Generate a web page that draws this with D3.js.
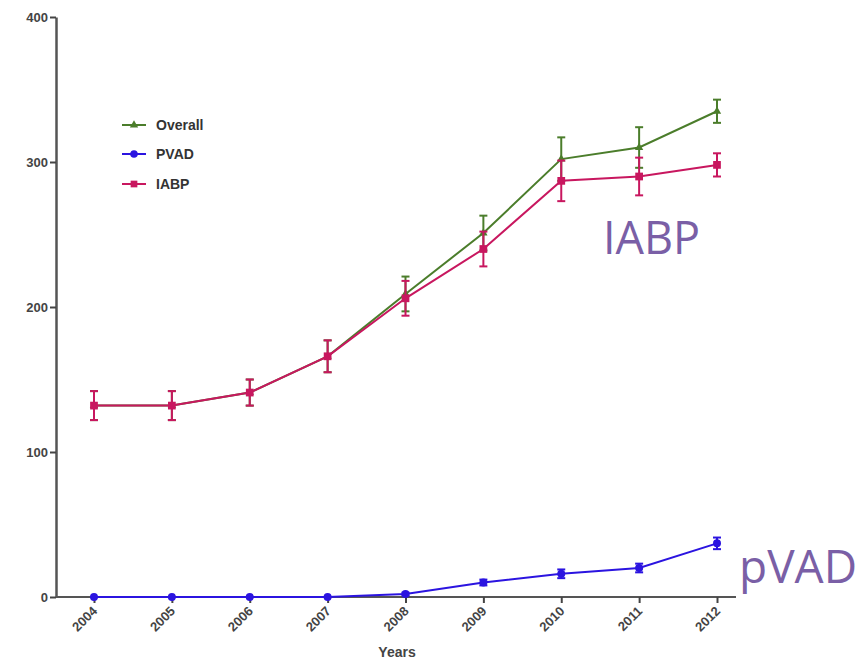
<!DOCTYPE html>
<html>
<head>
<meta charset="utf-8">
<script src="https://cdn.jsdelivr.net/npm/d3@7"></script>
<style>
body { margin: 0; background: #fff; }
svg { font-family: "Liberation Sans", Arial, sans-serif; }
.tick text { font-weight: bold; fill: #444; }
</style>
</head>
<body>
<script>
// Data
var years = [2004, 2005, 2006, 2007, 2008, 2009, 2010, 2011, 2012];
var overall = [132, 132, 141, 166, 209, 251, 302, 310, 335];
var overallErr = [10, 10, 9, 11, 12, 12, 15, 14, 8];
var pvad = [0, 0, 0, 0, 2, 10, 16, 20, 37];
var pvadErr = [0, 0, 0, 0, 1, 2, 3, 3, 4];
var iabp = [132, 132, 141, 166, 206, 240, 287, 290, 298];
var iabpErr = [10, 10, 9, 11, 12, 12, 14, 13, 8];
var yTicks = [0, 100, 200, 300, 400];

var width = 859, height = 660;
var svg = d3.select('body').append('svg')
	.attr('width', width)
	.attr('height', height);

// scales
var x = d3.scalePoint()
	.domain(years)
	.range([94, 717]);
var y = d3.scaleLinear()
	.domain([0, 400])
	.range([597, 17]);

// axes
var xAxis = svg.append('g')
	.attr('transform', 'translate(0,597)');
xAxis.append('line') // axis line runs past last year
	.attr('x1', 56).attr('x2', 736)
	.attr('y1', 0).attr('y2', 0)
	.attr('stroke', '#555').attr('stroke-width', 2);
xAxis.call(d3.axisBottom(x).tickSize(6).tickSizeOuter(0))
xAxis.select('.domain').remove();
xAxis.selectAll('.tick line').attr('stroke', '#444').attr('stroke-width', 2);
xAxis.selectAll('.tick text')
	.style('font-size', '13px')
	.attr('text-anchor', 'end')
	.attr('y', 0)
	.attr('dx', '-8px')
	.attr('dy', '13px')
	.attr('transform', 'rotate(-45)');

var yAxis = svg.append('g')
	.attr('transform', 'translate(56,0)')
	.call(d3.axisLeft(y).tickValues(yTicks).tickSize(6).tickSizeOuter(0));
yAxis.select('.domain').attr('stroke', '#555').attr('stroke-width', 2.5);
yAxis.selectAll('.tick line').attr('stroke', '#444').attr('stroke-width', 2);
yAxis.selectAll('.tick text').style('font-size', '13px').attr('x', -8);

svg.append('text')
	.attr('x', 397).attr('y', 657)
	.attr('text-anchor', 'middle')
	.style('font-size', '14px').style('font-weight', 'bold').attr('fill', '#444')
	.text('Years');

// series, drawn bottom to top
var series = [
	{name: 'Overall', vals: overall, err: overallErr, color: '#4b7d2b', shape: d3.symbolTriangle, size: 30},
	{name: 'IABP', vals: iabp, err: iabpErr, color: '#c8175f', shape: d3.symbolSquare, size: 60},
	{name: 'PVAD', vals: pvad, err: pvadErr, color: '#2b14e0', shape: d3.symbolCircle, size: 50}
];

var line = d3.line()
	.x(function (d) { return x(d.year); })
	.y(function (d) { return y(d.v); });

series.forEach(function (s) {
	var pts = years.map(function (yr, i) { return {year: yr, v: s.vals[i], e: s.err[i]}; });
	var g = svg.append('g');
	g.append('path')
		.datum(pts)
		.attr('d', line)
		.attr('fill', 'none')
		.attr('stroke', s.color)
		.attr('stroke-width', 2);
	// error bars
	var eb = g.selectAll('.eb').data(pts.filter(function (d) { return d.e > 0; }))
		.enter().append('g');
	eb.append('line')
		.attr('x1', function (d) { return x(d.year); })
		.attr('x2', function (d) { return x(d.year); })
		.attr('y1', function (d) { return y(d.v + d.e); })
		.attr('y2', function (d) { return y(d.v - d.e); })
		.attr('stroke', s.color).attr('stroke-width', 2);
	[1, -1].forEach(function (sign) {
		eb.append('line')
			.attr('x1', function (d) { return x(d.year) - 4; })
			.attr('x2', function (d) { return x(d.year) + 4; })
			.attr('y1', function (d) { return y(d.v + sign * d.e); })
			.attr('y2', function (d) { return y(d.v + sign * d.e); })
			.attr('stroke', s.color).attr('stroke-width', 2);
	});
	g.selectAll('.pt').data(pts).enter().append('path')
		.attr('d', d3.symbol().type(s.shape).size(s.size))
		.attr('transform', function (d) { return 'translate(' + x(d.year) + ',' + y(d.v) + ')'; })
		.attr('fill', s.color);
});

// legend
var legendItems = [series[0], series[2], series[1]];
var legend = svg.append('g');
legendItems.forEach(function (s, i) {
	var ly = [125, 154, 184][i];
	legend.append('line')
		.attr('x1', 122).attr('x2', 146)
		.attr('y1', ly).attr('y2', ly)
		.attr('stroke', s.color).attr('stroke-width', 2);
	legend.append('path')
		.attr('d', d3.symbol().type(s.shape).size(s.name == 'Overall' ? 30 : 45))
		.attr('transform', 'translate(134,' + ly + ')')
		.attr('fill', s.color);
	legend.append('text')
		.attr('x', 156).attr('y', ly + 5)
		.style('font-size', '14px').style('font-weight', 'bold').attr('fill', '#333')
		.text(s.name);
});

// big annotations
svg.append('text')
	.attr('x', 603).attr('y', 254)
	.style('font-size', '45px').attr('fill', '#7a5fa6')
	.style('font-family', '"Open Sans", sans-serif')
	.text('IABP');
svg.append('text')
	.attr('x', 739).attr('y', 583)
	.style('font-size', '46px').attr('fill', '#7a5fa6')
	.style('font-family', '"Open Sans", sans-serif')
	.text('pVAD');
</script>
</body>
</html>
